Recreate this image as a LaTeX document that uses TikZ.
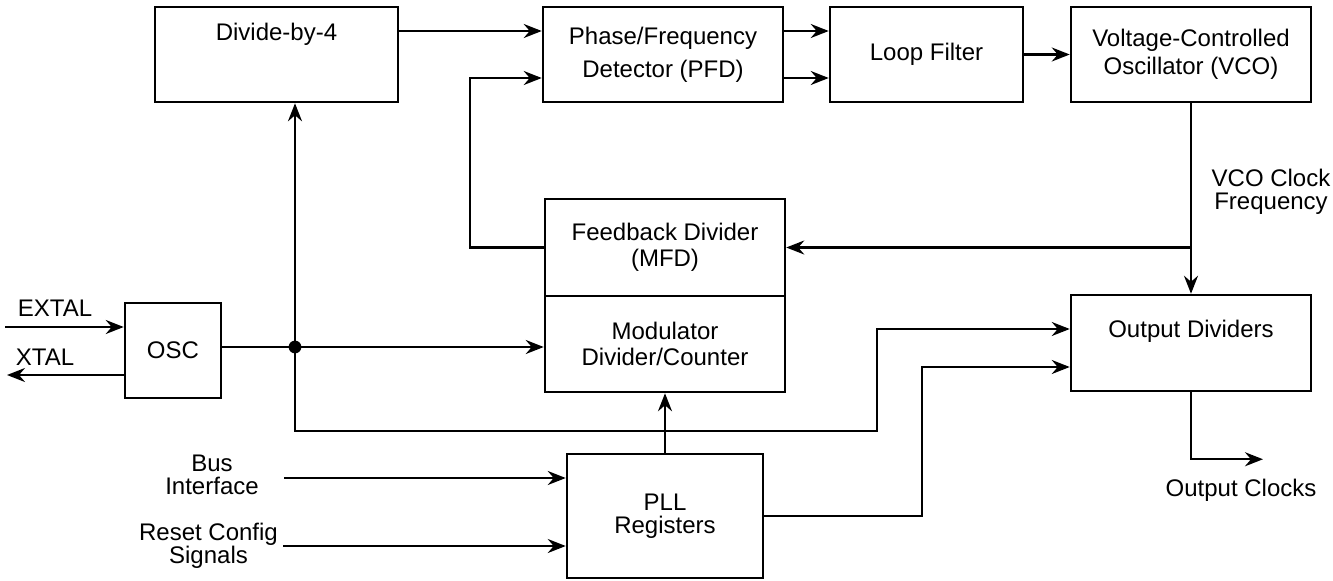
\documentclass[tikz,border=0pt]{standalone}
\usepackage{fontspec}
\setmainfont{Liberation Sans}
\usetikzlibrary{arrows.meta}

\def\rowoff{11.75pt}

\begin{document}
\begin{tikzpicture}[
  x=0.5pt, y=-0.5pt,
  every node/.style={font=\fontsize{12}{13}\selectfont, align=center, inner sep=0pt},
  lbl/.style={font=\fontsize{12}{11.5}\selectfont},
  block/.style={draw, line width=1.25pt, minimum width=120pt, minimum height=47.5pt},
  sig/.style={line width=1.2pt, -{Stealth[length=9pt, width=7pt, inset=3pt]}}
]
\useasboundingbox (0,0) rectangle (1333,580);

% top row
\node[block, minimum width=121.5pt, text height=9pt, text depth=23.5pt] (div4) at (276.5,54.5) {Divide-by-4};
\node[block] (pfd) at (663,54.5) {Phase/Frequency\\[3.5pt]Detector (PFD)};
\node[block, minimum width=96.5pt] (loop) at (926.5,54.5) {Loop Filter};
\node[block] (vco) at (1191,54.5) {Voltage-Controlled\\[1pt]Oscillator (VCO)};

% middle
\node[block, minimum height=48.5pt] (fbdiv) at (665,247.5) {Feedback Divider\\(MFD)};
\node[block, minimum height=48pt] (mod) at (665,344) {Modulator\\Divider/Counter};
\node[block, minimum width=48pt] (osc) at (173,350.5) {OSC};
\node[block, minimum height=48pt, text height=9pt, text depth=15pt] (outdiv) at (1191,343) {Output Dividers};

% bottom
\node[block, minimum width=98pt, minimum height=62pt] (pll) at (665,516) {PLL\\[-1.5pt]Registers};

% labels
\node (extallbl) at (55,308) {EXTAL};
\node (xtallbl) at (45,357) {XTAL};
\node[lbl] (vcoclk) at (1271,192) {VCO Clock\\Frequency};
\node[lbl] (bus) at (212,475) {Bus\\Interface};
\node[lbl] (rst) at (208.5,546) {Reset Config\\Signals};
\node (outclk) at (1241,490) {Output Clocks};

\coordinate (extal) at (5,327);
\coordinate (xtal) at (7,375);
\coordinate (jn) at (295,347);
\coordinate (busin) at (284,478);
\coordinate (rstin) at (283,546);

% oscillator side
\draw[sig] (extal) -- (extal -| osc.west);
\draw[sig] (xtal -| osc.west) -- (xtal);
\draw[sig] (jn -| osc.east) -- (jn -| mod.west);
\fill (jn) circle[radius=3.2pt];
\draw[sig] (jn) -- (jn |- div4.south);
\draw[sig] (jn) |- ++(582,84) |- ([yshift=7pt]outdiv.west);

% loop
\draw[sig] ([yshift=\rowoff]div4.east) -- ([yshift=\rowoff]pfd.west);
\draw[sig] ([yshift=\rowoff]pfd.east) -- ([yshift=\rowoff]loop.west);
\draw[sig] ([yshift=-\rowoff]pfd.east) -- ([yshift=-\rowoff]loop.west);
\draw[sig] (loop.east) -- (vco.west);
\draw[sig] (vco.south) -- (outdiv.north);
\draw[sig] (vco.south |- fbdiv.east) -- (fbdiv.east);
\draw[sig] (fbdiv.west) -- ++(-74,0) |- ([yshift=-\rowoff]pfd.west);

% registers
\draw[sig] (busin) -- (busin -| pll.west);
\draw[sig] (rstin) -- (rstin -| pll.west);
\draw[sig] (pll.north) -- (mod.south);
\draw[sig] (pll.east) -- ++(158,0) |- ([yshift=-12pt]outdiv.west);
\draw[sig] (outdiv.south) |- ++(72,67);
\end{tikzpicture}
\end{document}
